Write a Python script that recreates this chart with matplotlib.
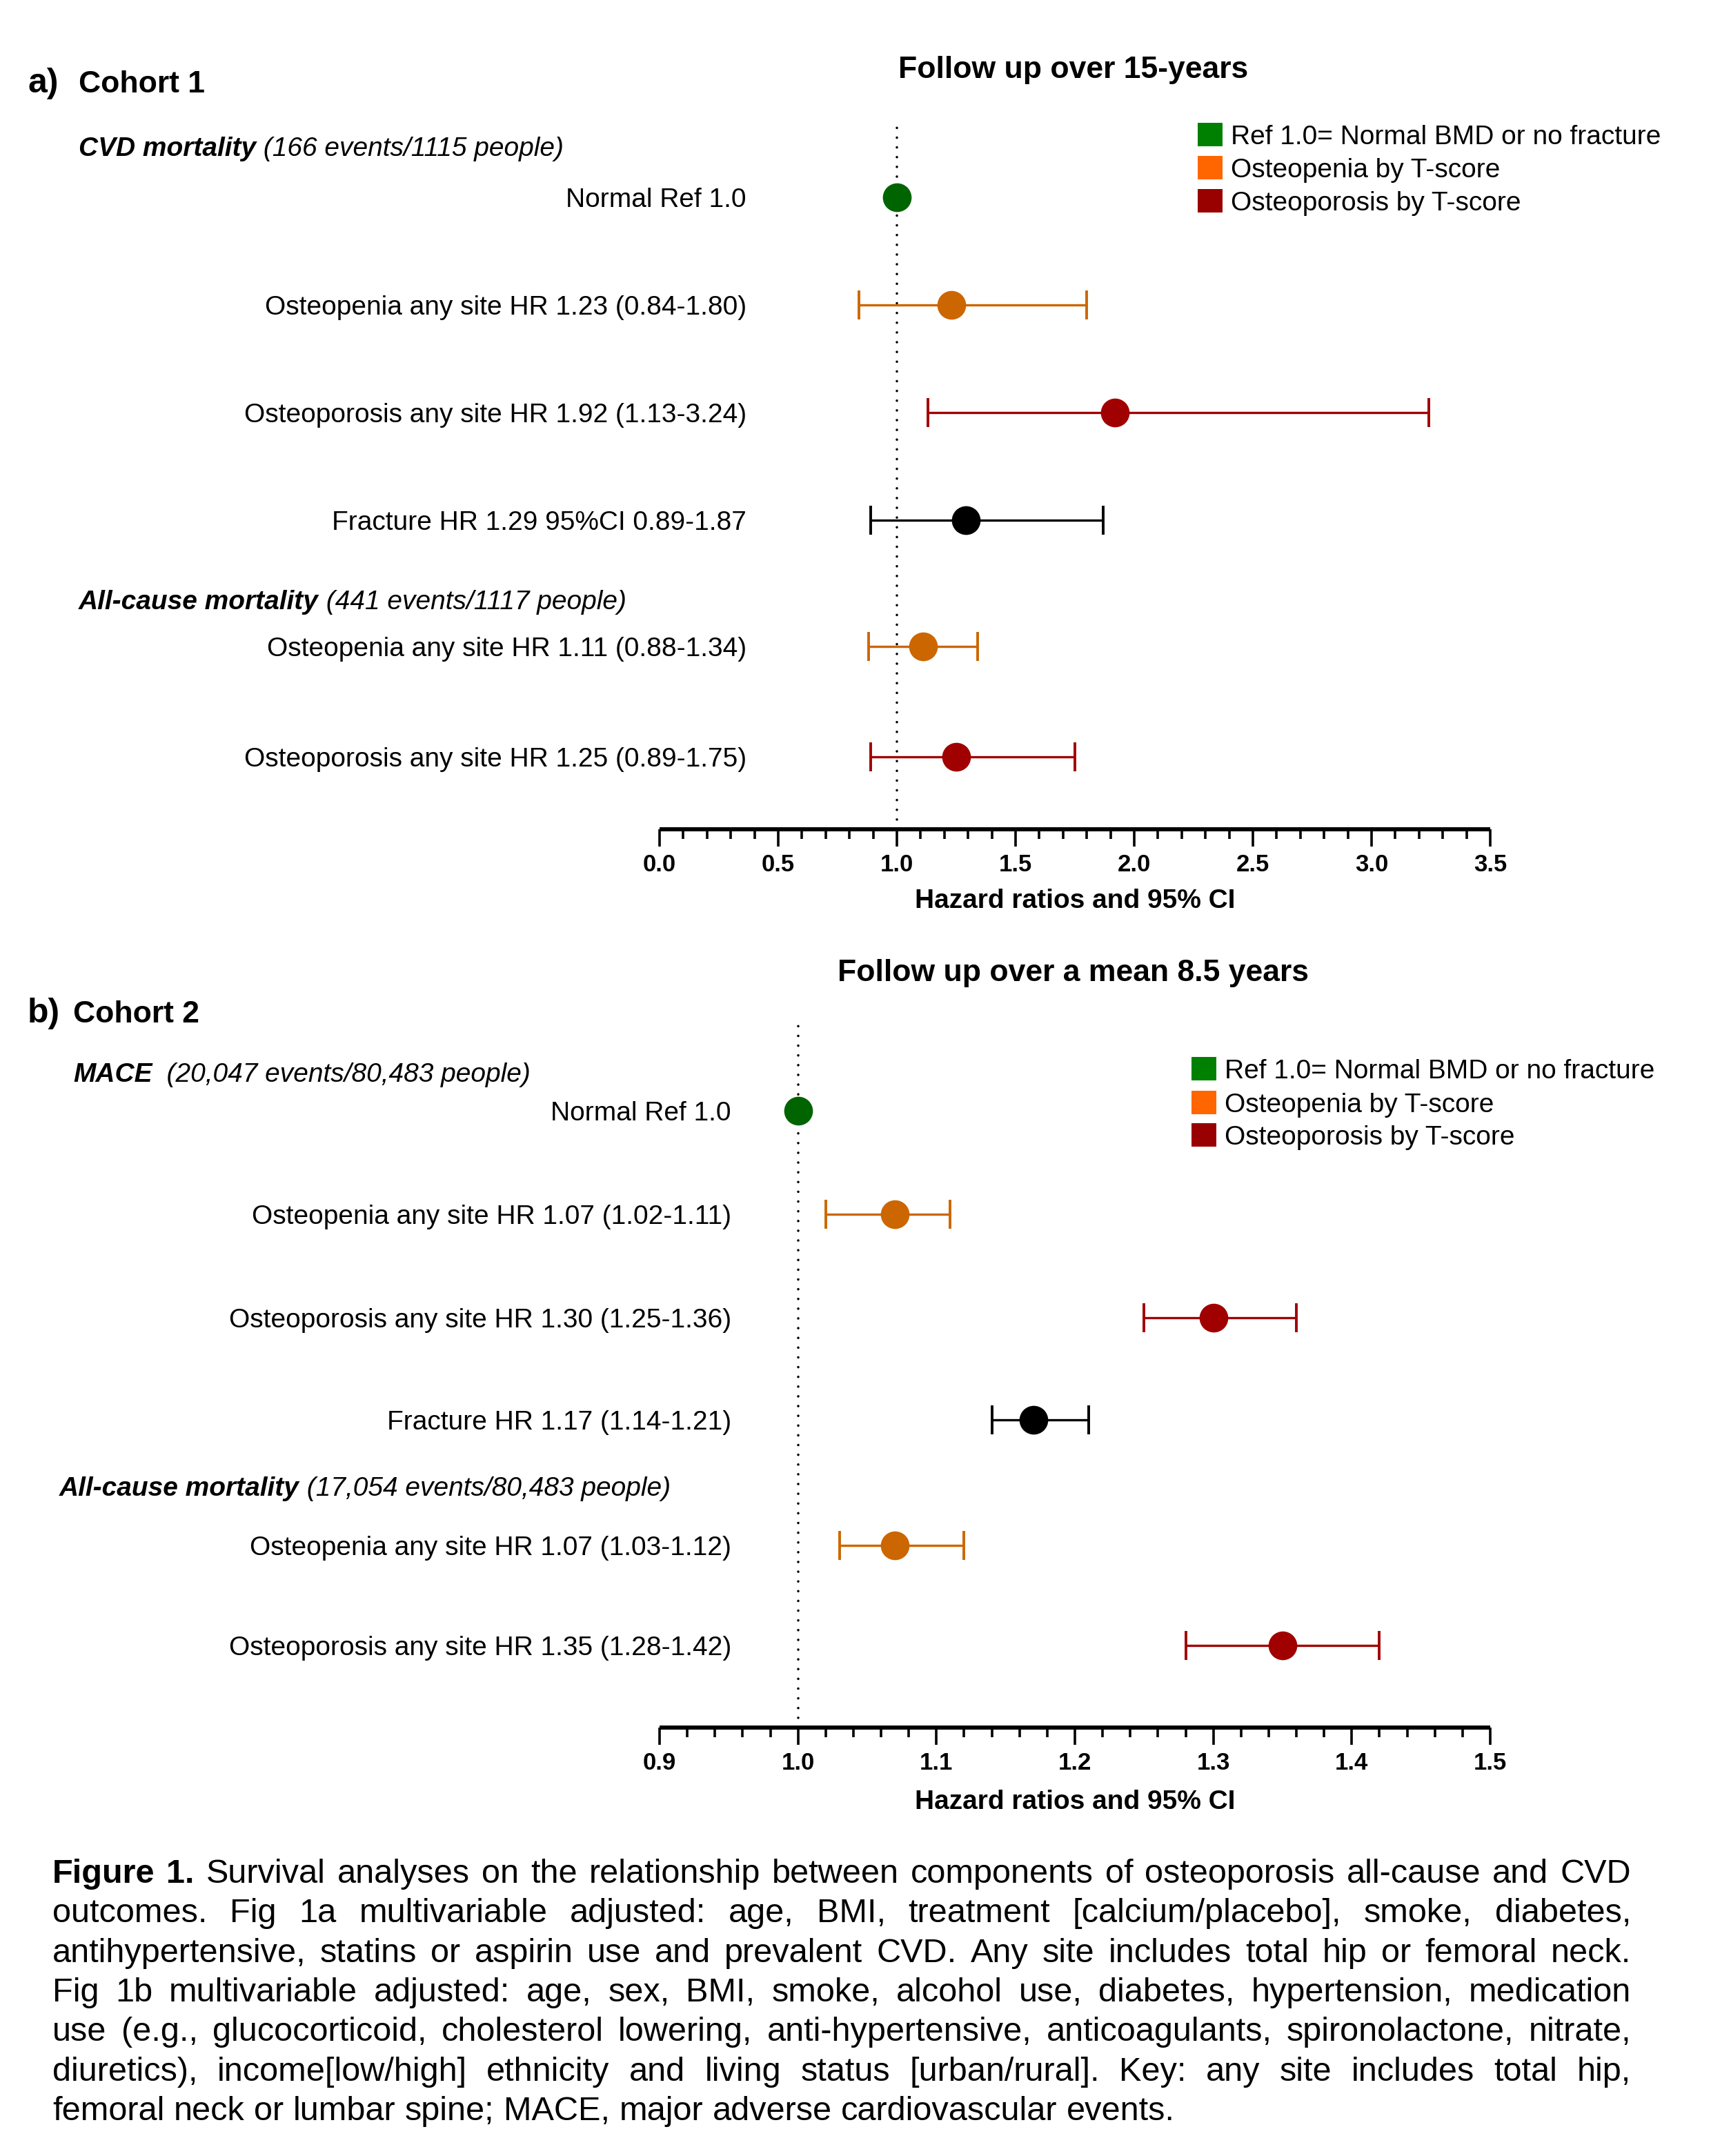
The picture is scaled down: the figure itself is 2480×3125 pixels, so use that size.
import matplotlib
matplotlib.use("Agg")
import matplotlib.pyplot as plt
import matplotlib.transforms as mtransforms
from matplotlib.patches import Rectangle
from matplotlib.ticker import MultipleLocator

plt.rcParams['font.family'] = ['Liberation Sans', 'DejaVu Sans']

# ---- data ----
labels_a = ["Normal Ref 1.0",
            "Osteopenia any site HR 1.23 (0.84-1.80)",
            "Osteoporosis any site HR 1.92 (1.13-3.24)",
            "Fracture HR 1.29 95%CI 0.89-1.87",
            "Osteopenia any site HR 1.11 (0.88-1.34)",
            "Osteoporosis any site HR 1.25 (0.89-1.75)"]
hr_a = [1.00, 1.23, 1.92, 1.29, 1.11, 1.25]
lo_a = [1.00, 0.84, 1.13, 0.89, 0.88, 0.89]
hi_a = [1.00, 1.80, 3.24, 1.87, 1.34, 1.75]
group_a = ["ref", "penia", "porosis", "fracture", "penia", "porosis"]

labels_b = ["Normal Ref 1.0",
            "Osteopenia any site HR 1.07 (1.02-1.11)",
            "Osteoporosis any site HR 1.30 (1.25-1.36)",
            "Fracture HR 1.17 (1.14-1.21)",
            "Osteopenia any site HR 1.07 (1.03-1.12)",
            "Osteoporosis any site HR 1.35 (1.28-1.42)"]
hr_b = [1.00, 1.07, 1.30, 1.17, 1.07, 1.35]
lo_b = [1.00, 1.02, 1.25, 1.14, 1.03, 1.28]
hi_b = [1.00, 1.11, 1.36, 1.21, 1.12, 1.42]
group_b = ["ref", "penia", "porosis", "fracture", "penia", "porosis"]

headers_a = [("CVD mortality", " (166 events/1115 people)"),
             ("All-cause mortality", " (441 events/1117 people)")]
headers_b = [("MACE", "  (20,047 events/80,483 people)"),
             ("All-cause mortality", " (17,054 events/80,483 people)")]

legend_labels = ["Ref 1.0= Normal BMD or no fracture",
                 "Osteopenia by T-score",
                 "Osteoporosis by T-score"]

caption_lines = [
    "Figure 1. Survival analyses on the relationship between components of osteoporosis all-cause and CVD",
    "outcomes. Fig 1a multivariable adjusted: age, BMI, treatment [calcium/placebo], smoke, diabetes,",
    "antihypertensive, statins or aspirin use and prevalent CVD. Any site includes total hip or femoral neck.",
    "Fig 1b multivariable adjusted: age, sex, BMI, smoke, alcohol use, diabetes, hypertension, medication",
    "use (e.g., glucocorticoid, cholesterol lowering, anti-hypertensive, anticoagulants, spironolactone, nitrate,",
    "diuretics), income[low/high] ethnicity and living status [urban/rural]. Key: any site includes total hip,",
    "femoral neck or lumbar spine; MACE, major adverse cardiovascular events.",
]

# ---- styles ----
marker_col = {"ref": "#006400", "penia": "#CC6600", "porosis": "#A00000", "fracture": "black"}
legend_col = ["#008000", "#FF6600", "#990000"]

W, H = 2480, 3125
fig = plt.figure(figsize=(W / 100, H / 100), dpi=100)


def fx(px):
    return px / W


def fy(py):
    return 1 - py / H


def forest(rect, xlim, major, minor, rows, ylim, labels, hr, lo, hi, groups,
           label_x, headers, header_rows, header_x):
    left, top, right, bottom = rect
    ax = fig.add_axes([fx(left), fy(bottom), (right - left) / W, (bottom - top) / H])
    ax.set_xlim(*xlim)
    ax.set_ylim(*ylim)
    for s in ["left", "right", "top"]:
        ax.spines[s].set_visible(False)
    ax.spines["bottom"].set_linewidth(4.3)
    ax.spines["bottom"].set_capstyle("butt")
    ax.set_yticks([])
    ax.xaxis.set_major_locator(MultipleLocator(major))
    ax.xaxis.set_minor_locator(MultipleLocator(minor))
    ax.xaxis.set_major_formatter(plt.FormatStrFormatter("%.1f"))
    ax.tick_params(axis="x", which="major", length=18, width=2.6, pad=7, labelsize=25)
    ax.tick_params(axis="x", which="minor", length=10, width=2.6)
    for t in ax.xaxis.get_majorticklabels():
        t.set_fontweight("bold")

    ax.axvline(1.0, color="black", lw=2.6, dashes=(0.01, 3.9),
               dash_capstyle="round", zorder=1)

    for y, h, l, u, g in zip(rows, hr, lo, hi, groups):
        c = marker_col[g]
        if g == "ref":
            ax.plot([h], [y], "o", color=c, ms=30, mew=0, zorder=3)
        else:
            ax.errorbar([h], [y], xerr=[[h - l], [u - h]], fmt="none", ecolor=c,
                        elinewidth=2.4, capsize=15, capthick=2.8, zorder=2)
            ax.plot([h], [y], "o", color=c, ms=30, mew=0, zorder=3)

    trans = mtransforms.offset_copy(ax.get_yaxis_transform(), fig=fig, y=-10, units="points")
    for y, lab in zip(rows, labels):
        ax.text(label_x, y, lab, transform=trans, ha="right", va="baseline", fontsize=28)

    for (bold_part, rest), y, hx in zip(headers, header_rows, header_x):
        t1 = ax.text(hx, y, bold_part, transform=trans, ha="left", va="baseline",
                     fontsize=28, fontweight="bold", style="italic")
        ax.annotate(rest, xy=(1, 0), xycoords=t1, ha="left", va="bottom",
                    fontsize=28, style="italic")
    return ax


ax_a = forest((956, 178, 2160, 1202), (0, 3.5), 0.5, 0.1,
              [0, 1, 2, 3, 4.17, 5.2], (5.87, -0.69),
              labels_a, hr_a, lo_a, hi_a, group_a,
              (1082 - 956) / 1204, headers_a, [-0.47, 3.74],
              [(114 - 956) / 1204, (114 - 956) / 1204])

ax_b = forest((956, 1482, 2160, 2504), (0.9, 1.5), 0.1, 0.02,
              [0, 1, 2, 2.99, 4.2, 5.17], (5.96, -0.853),
              labels_b, hr_b, lo_b, hi_b, group_b,
              (1060 - 956) / 1204, headers_b, [-0.37, 3.63],
              [(106 - 956) / 1204, (86 - 956) / 1204])

for y in [1306, 2612]:
    fig.text(fx(1558), fy(y), "Hazard ratios and 95% CI", ha="center", va="center",
             fontsize=28, fontweight="bold")

# titles and panel tags
fig.text(fx(1556), fy(102), "Follow up over 15-years", ha="center", va="center",
         fontsize=32, fontweight="bold")
fig.text(fx(1556), fy(1410), "Follow up over a mean 8.5 years", ha="center", va="center",
         fontsize=32, fontweight="bold")
fig.text(fx(40), fy(134), "a)", ha="left", va="baseline", fontsize=36, fontweight="bold")
fig.text(fx(114), fy(134), "Cohort 1", ha="left", va="baseline", fontsize=32, fontweight="bold")
fig.text(fx(40), fy(1482), "b)", ha="left", va="baseline", fontsize=36, fontweight="bold")
fig.text(fx(106), fy(1482), "Cohort 2", ha="left", va="baseline", fontsize=32, fontweight="bold")

# legends
for sq_x, txt_x, centers in [(1736, 1784, [195, 243, 291]), (1727, 1775, [1549, 1598, 1645])]:
    for c, lab, cy in zip(legend_col, legend_labels, centers):
        fig.add_artist(Rectangle((fx(sq_x), fy(cy + 17)), 36 / W, 34 / H,
                                 transform=fig.transFigure, color=c, lw=0))
        fig.text(fx(txt_x), fy(cy + 14), lab, ha="left", va="baseline", fontsize=28)

# justified caption
renderer = fig.canvas.get_renderer()
x_left, x_right = 76, 2364
space_px = 35 * 100 / 72 * 0.278
for i, line in enumerate(caption_lines):
    y = fy(2712 + i * 57.3 + 17)
    words = line.split(" ")
    arts = []
    for j, w in enumerate(words):
        bold = (i == 0 and j < 2)
        arts.append(fig.text(0, y, w, ha="left", va="baseline", fontsize=35,
                             fontweight="bold" if bold else "normal"))
    widths = [a.get_window_extent(renderer).width for a in arts]
    if i < len(caption_lines) - 1:
        gap = (x_right - x_left - sum(widths)) / (len(words) - 1)
    else:
        gap = space_px
    x = x_left
    for a, w in zip(arts, widths):
        a.set_x(fx(x))
        x += w + gap

fig.savefig("out.png", dpi=100)
